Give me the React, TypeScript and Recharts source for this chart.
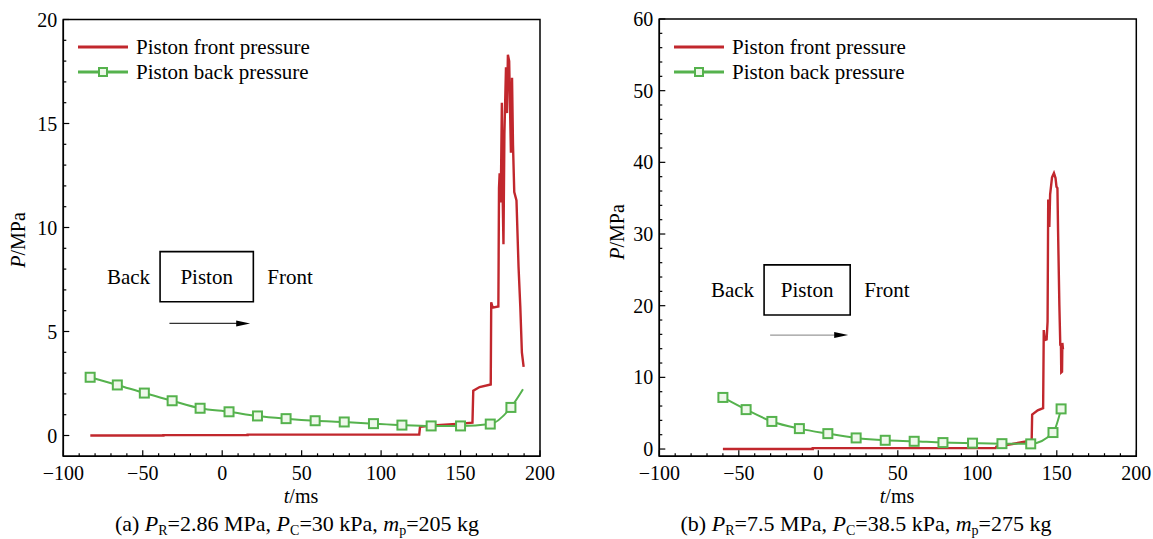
import { LineChart, Line, XAxis, YAxis, ReferenceArea, ReferenceLine } from "recharts";

const FONT = '"Liberation Serif", "Times New Roman", serif';
const RED = "#c1272d";
const GREEN = "#55b24d";

// panel (a): front pressure [t ms, P MPa]
const frontA = [
  [-83, 0], [-37, 0], [-37, 0.02], [16, 0.02], [16, 0.04], [78, 0.04], [124, 0.05],
  [124.5, 0.42], [135, 0.5], [150, 0.57], [157.5, 0.62], [158, 2.15], [162, 2.33],
  [169, 2.45], [169.3, 6.4], [170.2, 6.15], [173.8, 6.2], [174.2, 11.9], [174.6, 12.6],
  [175.3, 11.2], [176, 16], [176.4, 12], [177, 9.2], [177.6, 14.5], [178.6, 17.7],
  [179.2, 15.5], [179.8, 18.3], [180.6, 18.0], [181.2, 15.5], [181.7, 13.6], [182.4, 17.2],
  [183, 14], [183.8, 11.7], [185.2, 11.3], [186.5, 8.1], [187.6, 6.2], [188.6, 4.0], [189.7, 3.3],
];

// panel (a): back pressure
const backA = [
  [-83.1, 2.8], [-66, 2.43], [-49, 2.04], [-31.5, 1.67], [-13.9, 1.31], [4.3, 1.14],
  [22.2, 0.94], [40.2, 0.81], [58.5, 0.71], [76.8, 0.65], [95.2, 0.57], [113.1, 0.5],
  [131.5, 0.46], [150, 0.46], [168.7, 0.55], [181.7, 1.35], [189.3, 2.22],
];

// panel (b): front pressure
const frontB = [
  [-60, 0], [-3.5, 0], [-3.5, 0.12], [111.5, 0.12], [112, 0.35], [122, 0.7], [134.2, 1.2],
  [134.5, 4.8], [138, 5.4], [141.4, 5.7], [141.8, 16.6], [142.4, 15.2], [143.6, 15.3],
  [144.2, 17.8], [144.6, 34.8], [145.3, 31], [145.8, 35.5], [147, 37.9], [148.2, 38.5],
  [149.2, 37.8], [149.8, 36.6], [150.4, 36.4], [150.8, 30.4], [151.6, 20.2], [152.2, 14.4],
  [152.6, 14.6], [152.8, 10.7], [153.3, 10.8], [153.5, 14.8], [153.9, 13.9],
];

// panel (b): back pressure
const backB = [
  [-60, 7.2], [-45.4, 5.5], [-29.2, 3.85], [-11.9, 2.85], [6, 2.15], [23.8, 1.55],
  [42.1, 1.22], [60.3, 1.08], [78.4, 0.9], [97, 0.82], [115.5, 0.75], [133.6, 0.72],
  [147.6, 2.3], [152.7, 5.6],
];

const xTicks = [-100, -90, -80, -70, -60, -50, -40, -30, -20, -10, 0, 10, 20, 30, 40, 50, 60, 70, 80, 90, 100,
  110, 120, 130, 140, 150, 160, 170, 180, 190, 200];
const yTicksA = [0, 1, 2, 3, 4, 5, 6, 7, 8, 9, 10, 11, 12, 13, 14, 15, 16, 17, 18, 19, 20];
const yTicksB = [0, 2, 4, 6, 8, 10, 12, 14, 16, 18, 20, 22, 24, 26, 28, 30, 32, 34, 36, 38, 40,
  42, 44, 46, 48, 50, 52, 54, 56, 58, 60];

const toRows = (arr: number[][]) => arr.map(([t, p]) => ({ t, p }));

const fmt = (v: number) => String(v).replace("-", "\u2212");

const AXIS_W = 50;
const AXIS_H = 30;

const XTick = (props: any) => {
  const { x, y, payload } = props;
  const major = payload.value % 50 === 0;
  return (
    <g>
      <line x1={x} y1={y} x2={x} y2={y - (major ? 6 : 3)} stroke="#000" strokeWidth={1.2} />
      {major && (
        <text x={x} y={y + 24} textAnchor="middle" fontSize={20} fontFamily={FONT} fill="#000">
          {fmt(payload.value)}
        </text>
      )}
    </g>
  );
};

const makeYTick = (step: number) => (props: any) => {
  const { x, y, payload } = props;
  const major = payload.value % step === 0;
  return (
    <g>
      <line x1={x} y1={y} x2={x + (major ? 6 : 3)} y2={y} stroke="#000" strokeWidth={1.2} />
      {major && (
        <text x={x - 6} y={y} dy="0.35em" textAnchor="end" fontSize={20} fontFamily={FONT} fill="#000">
          {payload.value}
        </text>
      )}
    </g>
  );
};

const Square = (props: any) => {
  const { cx, cy, index, skipLast, count } = props;
  if (cx == null || (skipLast && index === count - 1)) return <g key={index} />;
  return <rect key={index} x={cx - 4.5} y={cy - 4.5} width={9} height={9} fill="#eef8ea" stroke={GREEN} strokeWidth={2} />;
};

const PistonLabel = (props: any) => {
  const { x, y, width, height } = props.viewBox;
  const cy = y + height / 2;
  const common = { fontSize: 21, fontFamily: FONT, fill: "#000", dy: "0.35em" };
  return (
    <g>
      <text x={x - 10} y={cy} textAnchor="end" {...common}>Back</text>
      <text x={x + width / 2} y={cy} textAnchor="middle" {...common}>Piston</text>
      <text x={x + width + 14} y={cy} textAnchor="start" {...common}>Front</text>
    </g>
  );
};

const arrowShape = (color: string) => (p: any) => (
  <g>
    <line x1={p.x1} y1={p.y1} x2={p.x2 - 10} y2={p.y2} stroke={color} strokeWidth={1.3} />
    <polygon points={`${p.x2},${p.y2} ${p.x2 - 14},${p.y2 - 3} ${p.x2 - 14},${p.y2 + 3}`} fill="#000" />
  </g>
);

type PanelProps = {
  left: number;
  width: number;
  plotLeft: number;
  plotRight: number;
  plotTop: number;
  plotBottom: number;
  front: number[][];
  back: number[][];
  yMax: number;
  yTicks: number[];
  yStep: number;
  box: [number, number, number, number];
  arrow: [number, number, number];
  arrowColor: string;
  skipLastMarker: boolean;
};

function Panel(p: PanelProps) {
  const backRows = toRows(p.back);
  const margin = {
    top: p.plotTop,
    left: p.plotLeft - p.left - AXIS_W,
    right: p.left + p.width - p.plotRight,
    bottom: 539 - p.plotBottom - AXIS_H,
  };
  return (
    <div style={{ position: "absolute", left: p.left, top: 0 }}>
      <LineChart width={p.width} height={539} margin={margin}>
        <XAxis
          type="number"
          dataKey="t"
          domain={[-100, 200]}
          ticks={xTicks}
          interval={0}
          allowDataOverflow
          height={AXIS_H}
          tickSize={0}
          tickMargin={0}
          tick={XTick}
          axisLine={{ stroke: "#000", strokeWidth: 1.5 }}
          tickLine={false}
        />
        <YAxis
          type="number"
          domain={[-1, p.yMax]}
          ticks={p.yTicks}
          interval={0}
          allowDataOverflow
          width={AXIS_W}
          tickSize={0}
          tickMargin={0}
          tick={makeYTick(p.yStep)}
          axisLine={{ stroke: "#000", strokeWidth: 1.5 }}
          tickLine={false}
        />
        <ReferenceArea x1={-100} x2={200} y1={-1} y2={p.yMax} fill="none" stroke="#000" strokeWidth={1.5} />
        <ReferenceArea
          x1={p.box[0]}
          x2={p.box[1]}
          y1={p.box[2]}
          y2={p.box[3]}
          fill="none"
          fillOpacity={0}
          stroke="#000"
          strokeWidth={1.6}
          label={<PistonLabel />}
        />
        <ReferenceLine
          segment={[{ x: p.arrow[0], y: p.arrow[2] }, { x: p.arrow[1], y: p.arrow[2] }]}
          shape={arrowShape(p.arrowColor)}
        />
        <Line
          data={toRows(p.front)}
          dataKey="p"
          type="linear"
          stroke={RED}
          strokeWidth={2.4}
          dot={false}
          isAnimationActive={false}
        />
        <Line
          data={backRows}
          dataKey="p"
          type="monotone"
          stroke={GREEN}
          strokeWidth={2}
          dot={(d: any) => <Square {...d} skipLast={p.skipLastMarker} count={backRows.length} />}
          isAnimationActive={false}
        />
      </LineChart>
    </div>
  );
}

function LegendBox({ left, top }: { left: number; top: number }) {
  const text = { fontSize: 21, fontFamily: FONT, fill: "#000" };
  return (
    <svg style={{ position: "absolute", left, top: top - 10 }} width={270} height={64}>
      <line x1={0} y1={20} x2={50} y2={20} stroke={RED} strokeWidth={3} />
      <text x={58} y={27} {...text}>Piston front pressure</text>
      <line x1={0} y1={45} x2={50} y2={45} stroke={GREEN} strokeWidth={3} />
      <rect x={21} y={41} width={8} height={8} fill="#eef8ea" stroke={GREEN} strokeWidth={2} />
      <text x={58} y={52} {...text}>Piston back pressure</text>
    </svg>
  );
}

const abs = (l: number, t: number, extra: any = {}) => ({
  position: "absolute" as const,
  left: l,
  top: t,
  fontFamily: FONT,
  fontSize: 20,
  color: "#000",
  whiteSpace: "nowrap" as const,
  lineHeight: 1,
  ...extra,
});

function YTitle({ cx, cy }: { cx: number; cy: number }) {
  return (
    <div style={abs(cx - 40, cy - 10, { width: 80, textAlign: "center", transform: "rotate(-90deg)" })}>
      <i>P</i>/MPa
    </div>
  );
}

function XTitle({ cx }: { cx: number }) {
  return (
    <div style={abs(cx - 40, 486, { width: 80, textAlign: "center" })}>
      <i>t</i>/ms
    </div>
  );
}

function Caption({ cx, children }: { cx: number; children: any }) {
  return <div style={abs(cx - 250, 513, { width: 500, textAlign: "center", fontSize: 22 })}>{children}</div>;
}

const sub = { fontSize: 14, verticalAlign: "-4px", lineHeight: 0 };

export default function App() {
  return (
    <div style={{ position: "absolute", left: 0, top: 0, width: 1153, height: 539, background: "#fff", overflow: "hidden" }}>
      <Panel
        left={0}
        width={576}
        plotLeft={63.3}
        plotRight={540}
        plotTop={19.5}
        plotBottom={456.3}
        front={frontA}
        back={backA}
        yMax={20}
        yTicks={yTicksA}
        yStep={5}
        box={[-39.1, 19.6, 6.43, 8.84]}
        arrow={[-33.2, 17.6, 5.39]}
        arrowColor="#333"
        skipLastMarker={true}
      />
      <Panel
        left={576}
        width={577}
        plotLeft={659.3}
        plotRight={1136.3}
        plotTop={19}
        plotBottom={456.2}
        front={frontB}
        back={backB}
        yMax={60}
        yTicks={yTicksB}
        yStep={10}
        box={[-34.1, 20.05, 18.7, 25.7]}
        arrow={[-30.3, 18.8, 15.9]}
        arrowColor="#999"
        skipLastMarker={false}
      />
      <LegendBox left={78} top={37} />
      <LegendBox left={674} top={37} />
      <YTitle cx={18} cy={240} />
      <YTitle cx={617} cy={232} />
      <XTitle cx={301} />
      <XTitle cx={897} />
      <Caption cx={297}>
        (a) <i>P</i><span style={sub}>R</span>=2.86 MPa, <i>P</i><span style={sub}>C</span>=30 kPa, <i>m</i>
        <span style={sub}>p</span>=205 kg
      </Caption>
      <Caption cx={866}>
        (b) <i>P</i><span style={sub}>R</span>=7.5 MPa, <i>P</i><span style={sub}>C</span>=38.5 kPa, <i>m</i>
        <span style={sub}>p</span>=275 kg
      </Caption>
    </div>
  );
}
